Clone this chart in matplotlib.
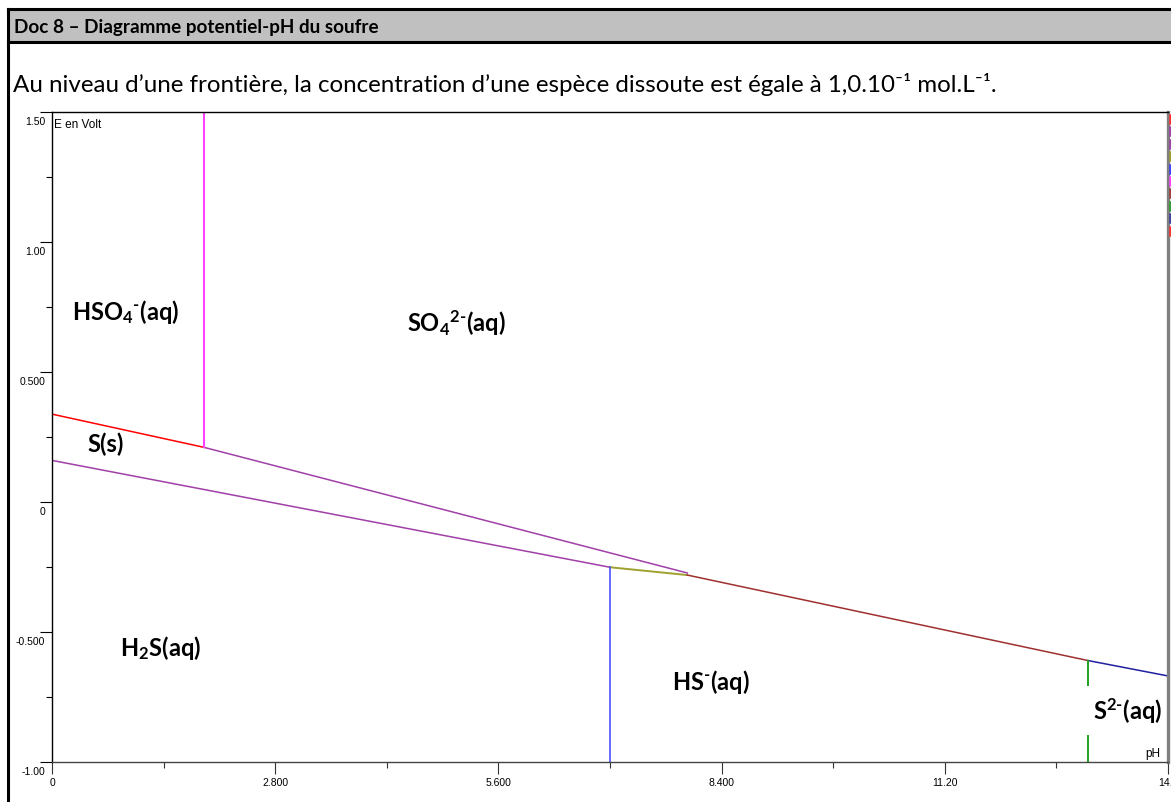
import matplotlib
matplotlib.use("Agg")
import matplotlib.pyplot as plt
from matplotlib.lines import Line2D
from matplotlib.patches import Rectangle
from matplotlib.transforms import ScaledTranslation

plt.rcParams["mathtext.fontset"] = "custom"
plt.rcParams["mathtext.rm"] = "Lato:bold"
plt.rcParams["mathtext.it"] = "Lato:bold"
plt.rcParams["mathtext.bf"] = "Lato:bold"

# boundaries of the potential-pH diagram (pH, E in volt)
red_ph = [0.0, 1.91]          # HSO4- / S
red_E = [0.338, 0.210]
so4_s_ph = [1.91, 7.97]       # SO4 2- / S
so4_s_E = [0.210, -0.273]
s_h2s_ph = [0.0, 7.0]         # S / H2S
s_h2s_E = [0.160, -0.251]
s_hs_ph = [7.0, 7.97]         # S / HS-
s_hs_E = [-0.251, -0.281]
so4_hs_ph = [7.97, 13.0]      # SO4 2- / HS-
so4_hs_E = [-0.281, -0.610]
so4_s2_ph = [13.0, 14.0]      # SO4 2- / S2-
so4_s2_E = [-0.610, -0.669]
pka_hso4 = 1.91
pka_h2s = 7.0
pka_hs = 13.0
vert_hso4_E = [0.210, 1.5]
vert_h2s_E = [-1.0, -0.251]
vert_hs_E = [-1.0, -0.610]

species = [r"HSO$_4$$^{\text{-}}$(aq)", r"SO$_4$$^{2\text{-}}$(aq)", "S(s)",
           r"H$_2$S(aq)", r"HS$^{\text{-}}$(aq)", r"S$^{2\text{-}}$(aq)"]
species_ph = [0.25, 4.45, 0.45, 0.85, 7.78, 13.06]
species_E = [0.736, 0.690, 0.224, -0.557, -0.687, -0.802]

xticks = [0, 2.8, 5.6, 8.4, 11.2, 14]
xticklabels = ["0", "2.800", "5.600", "8.400", "11.20", "14.0"]
xminor = [1.4, 4.2, 7.0, 9.8, 12.6]
yticks = [-1.0, -0.5, 0, 0.5, 1.0, 1.5]
yticklabels = ["-1.00", "-0.500", "0", "0.500", "1.00", "1.50"]
yminor = [-0.75, -0.25, 0.25, 0.75, 1.25]

side_colors = ["#ff3030", "#a040a8", "#a040a8", "#a0a030", "#4040ff",
               "#ff40ff", "#a04040", "#30a030", "#4040a0", "#ff3030"]

W, H = 1171, 803
fig = plt.figure(figsize=(W / 100, H / 100), dpi=100)


def fx(px):
    return px / W


def fy(py):
    return 1 - py / H


# document header (table look)
fig.add_artist(Rectangle((fx(8), fy(43)), 1 - fx(8), fy(10) - fy(43),
                         transform=fig.transFigure, facecolor="#c0c0c0", edgecolor="none"))
for y in (10, 43):
    fig.add_artist(Line2D([fx(8), 1], [fy(y), fy(y)], color="black", lw=2.2,
                          transform=fig.transFigure))
fig.add_artist(Line2D([fx(8), fx(8)], [0, fy(10)], color="black", lw=2.2,
                      transform=fig.transFigure))
fig.text(fx(14), fy(27), "Doc 8 – Diagramme potentiel-pH du soufre",
         family=["Lato", "DejaVu Sans"], weight="bold", size=13.6, va="center")
fig.text(fx(13), fy(84),
         "Au niveau d’une frontière, la concentration d’une espèce dissoute est égale à 1,0.10⁻¹ mol.L⁻¹.",
         family=["Lato", "DejaVu Sans"], size=17.4, va="center")

ax = fig.add_axes([fx(52), fy(763), fx(1168) - fx(52), fy(113) - fy(763)])
lw = 1.1
ax.plot(red_ph, red_E, color="#ff0000", lw=lw)
ax.plot(so4_s_ph, so4_s_E, color="#a040a8", lw=lw)
ax.plot(s_h2s_ph, s_h2s_E, color="#a040a8", lw=lw)
ax.plot(s_hs_ph, s_hs_E, color="#a0a030", lw=lw + 0.3)
ax.plot(so4_hs_ph, so4_hs_E, color="#a03030", lw=lw)
ax.plot(so4_s2_ph, so4_s2_E, color="#2020a0", lw=lw)
ax.plot([pka_hso4, pka_hso4], vert_hso4_E, color="#ff40ff", lw=1.5)
ax.plot([pka_h2s, pka_h2s], vert_h2s_E, color="#4040ff", lw=lw)
ax.plot([pka_hs, pka_hs], vert_hs_E, color="#20a020", lw=1.4)

for name, px, py in zip(species, species_ph, species_E):
    box = None
    if name.startswith("S$"):
        box = dict(boxstyle="square,pad=0.42", facecolor="white", edgecolor="none")
    ax.text(px, py, name, family="Lato", weight="bold",
            size=17, va="center", ha="left", bbox=box, zorder=2.3)

ax.set_xlim(0, 14)
ax.set_ylim(-1, 1.5)
ax.set_xticks(xticks, xticklabels)
ax.set_xticks(xminor, minor=True)
ax.set_yticks(yticks, yticklabels)
ax.set_yticks(yminor, minor=True)
ax.tick_params(which="major", length=8.6, width=0.8, labelsize=7.5,
               labelfontfamily="Liberation Sans")
ax.tick_params(which="minor", length=4, width=0.8)
ax.tick_params(axis="y", which="major", pad=-3.6)
ax.tick_params(axis="x", which="both", color="#333333")
ax.tick_params(axis="x", which="major", pad=2.5)
shift = ScaledTranslation(0, -8 / 100, fig.dpi_scale_trans)
for lab in ax.get_yticklabels():
    lab.set_transform(lab.get_transform() + shift)

ax.spines["top"].set_linewidth(1.0)
ax.spines["left"].set_linewidth(1.0)
ax.spines["bottom"].set_linewidth(1.0)
ax.spines["bottom"].set_color("#444444")
ax.spines["right"].set_linewidth(2.4)
ax.spines["right"].set_color("#808080")

ax.text(0.002, 0.99, "E en Volt", transform=ax.transAxes, family="Liberation Sans",
        size=8.5, va="top", ha="left")
ax.text(0.993, 0.005, "pH", transform=ax.transAxes, family="Liberation Sans",
        size=8.5, va="bottom", ha="right")

# small coloured marks at the right edge
for i, c in enumerate(side_colors):
    top = 116 + i * 12.4
    fig.add_artist(Line2D([fx(1170), fx(1170)], [fy(top), fy(top + 8)], color=c,
                          lw=1.8, transform=fig.transFigure))

fig.savefig("out.png", dpi=100)
